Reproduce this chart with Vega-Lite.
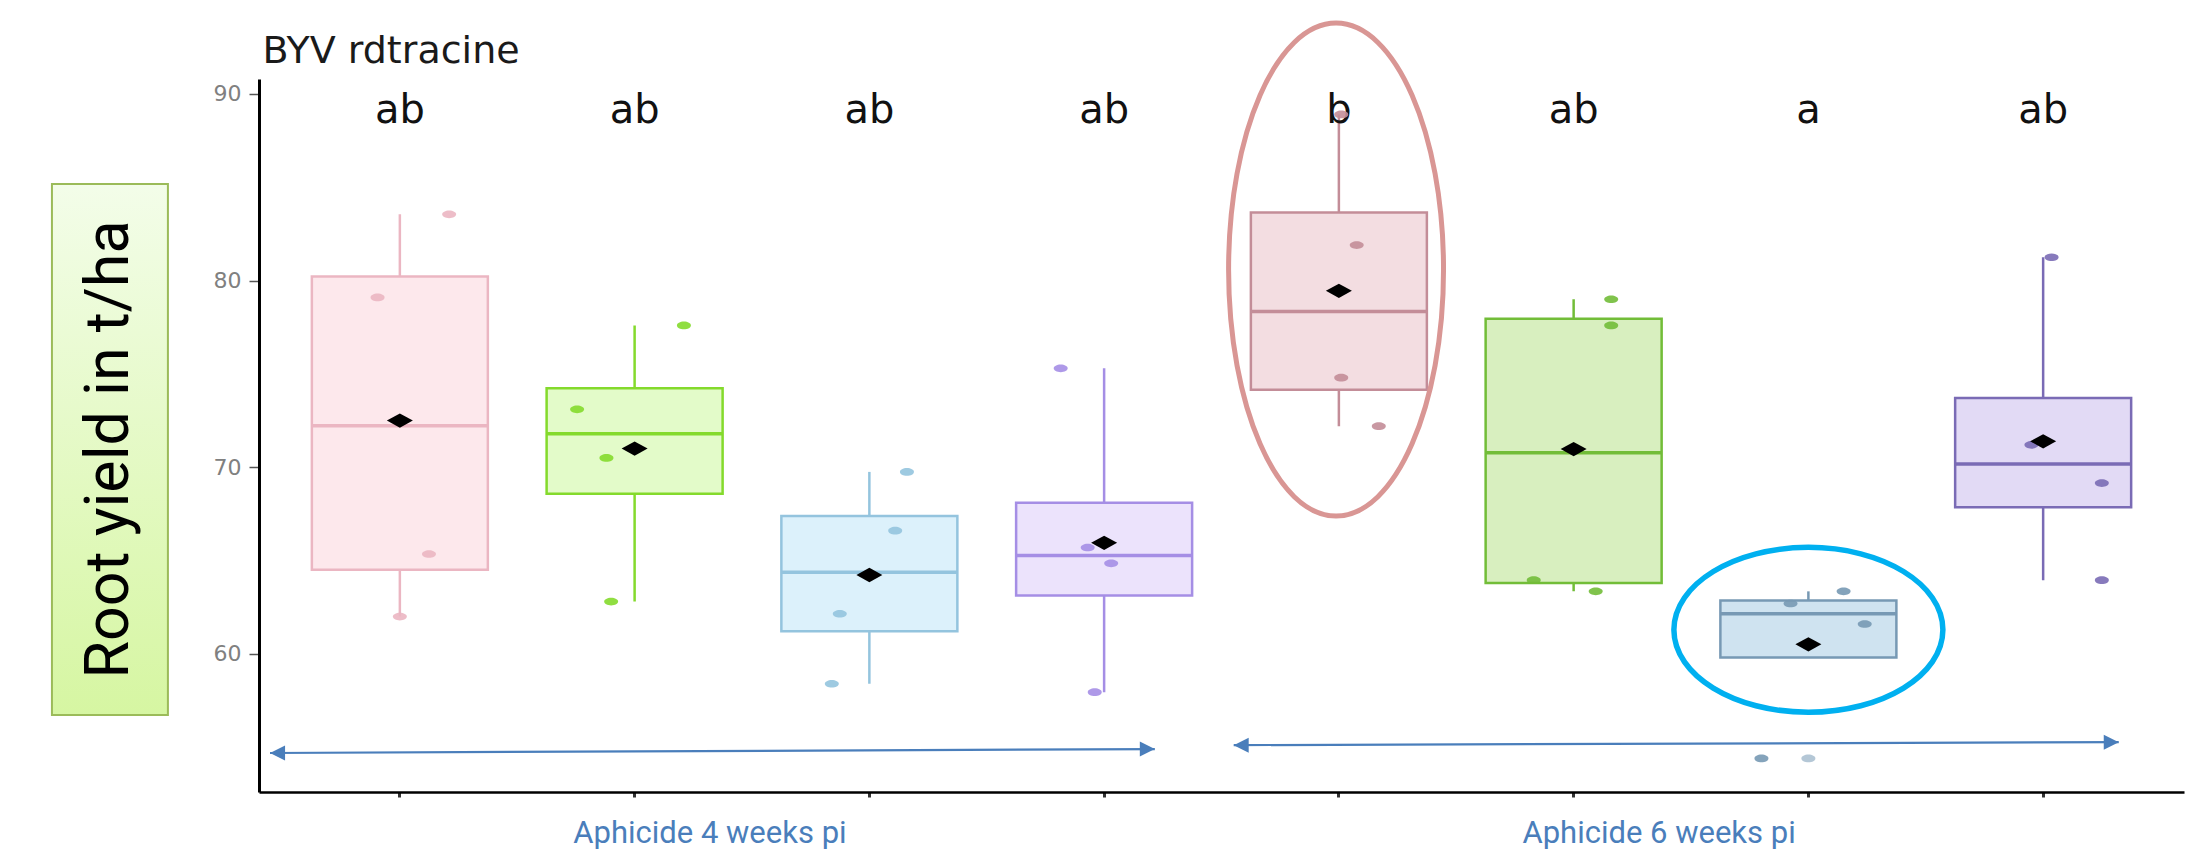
{
  "$schema": "https://vega.github.io/schema/vega-lite/v6.json",
  "width": 1925,
  "height": 713,
  "autosize": {"type": "none"},
  "padding": {"left": 259, "top": 79, "right": 3, "bottom": 71},
  "background": "white",
  "datasets": {
    "obs": [
      {"g": "1", "v": 83.55, "jit": 0.21}, {"g": "1", "v": 79.1, "jit": -0.095}, {"g": "1", "v": 65.35, "jit": 0.124}, {"g": "1", "v": 62.0, "jit": 0.0},
      {"g": "2", "v": 77.6, "jit": 0.21}, {"g": "2", "v": 73.1, "jit": -0.245}, {"g": "2", "v": 70.5, "jit": -0.12}, {"g": "2", "v": 62.8, "jit": -0.1},
      {"g": "3", "v": 69.75, "jit": 0.16}, {"g": "3", "v": 66.6, "jit": 0.11}, {"g": "3", "v": 62.15, "jit": -0.126}, {"g": "3", "v": 58.4, "jit": -0.16},
      {"g": "4", "v": 75.3, "jit": -0.185}, {"g": "4", "v": 65.7, "jit": -0.07}, {"g": "4", "v": 64.85, "jit": 0.03}, {"g": "4", "v": 57.95, "jit": -0.04},
      {"g": "5", "v": 88.9, "jit": 0.01}, {"g": "5", "v": 81.9, "jit": 0.076}, {"g": "5", "v": 74.8, "jit": 0.01}, {"g": "5", "v": 72.2, "jit": 0.17},
      {"g": "6", "v": 79.0, "jit": 0.16}, {"g": "6", "v": 77.6, "jit": 0.16}, {"g": "6", "v": 63.95, "jit": -0.17}, {"g": "6", "v": 63.35, "jit": 0.094},
      {"g": "7", "v": 63.35, "jit": 0.15}, {"g": "7", "v": 62.7, "jit": -0.076}, {"g": "7", "v": 61.6, "jit": 0.24}, {"g": "7", "v": 54.4, "jit": -0.2},
      {"g": "8", "v": 81.25, "jit": 0.036}, {"g": "8", "v": 71.2, "jit": -0.05}, {"g": "8", "v": 69.15, "jit": 0.25}, {"g": "8", "v": 63.95, "jit": 0.25}
    ],
    "letters": [
      {"g": "1", "lab": "ab"}, {"g": "2", "lab": "ab"}, {"g": "3", "lab": "ab"}, {"g": "4", "lab": "ab"},
      {"g": "5", "lab": "b"}, {"g": "6", "lab": "ab"}, {"g": "7", "lab": "a"}, {"g": "8", "lab": "ab"}
    ],
    "heading": [{"text": "BYV rdtracine"}],
    "ybox": [{"x1": -0.482, "x2": 0.012, "y1": 85.17, "y2": 56.73, "cx": -0.235, "cy": 70.95, "text": "Root yield in t/ha"}],
    "arrows": [
      {"x": 0.447, "y": 54.69, "x2": 4.216, "y2": 54.9},
      {"x": 4.552, "y": 55.11, "x2": 8.322, "y2": 55.27}
    ],
    "periods": [
      {"x": 2.321, "y": 50.35, "text": "Aphicide 4 weeks pi"},
      {"x": 6.364, "y": 50.35, "text": "Aphicide 6 weeks pi"}
    ],
    "rings": [
      {"name": "best", "x": 4.988, "y": 80.59},
      {"name": "worst", "x": 7.0, "y": 61.29}
    ]
  },
  "layer": [
    {
      "data": {"name": "obs"},
      "encoding": {
        "x": {"field": "g", "type": "nominal", "sort": null,
              "scale": {"type": "band", "paddingInner": 0.25, "paddingOuter": 0.225},
              "axis": {"labels": false, "title": null, "domainColor": "#000000", "domainWidth": 2.5, "tickColor": "#333333", "tickSize": 5, "tickWidth": 3, "grid": false}}
      },
      "layer": [
        {
          "transform": [
            {"joinaggregate": [{"op": "q1", "field": "v", "as": "q1"}, {"op": "q3", "field": "v", "as": "q3"}], "groupby": ["g"]},
            {"filter": "datum.v >= datum.q1 - 1.5*(datum.q3-datum.q1) && datum.v <= datum.q3 + 1.5*(datum.q3-datum.q1)"},
            {"aggregate": [{"op": "min", "field": "v", "as": "lo"}, {"op": "max", "field": "v", "as": "hi"}], "groupby": ["g"]}
          ],
          "mark": {"type": "rule", "strokeWidth": 2.5},
          "encoding": {
            "y": {"field": "lo", "type": "quantitative", "scale": {"domain": [52.6, 90.8], "nice": false, "zero": false},
                  "axis": {"values": [60, 70, 80, 90], "title": null, "grid": false, "domainColor": "#000000", "domainWidth": 3, "tickColor": "#555555", "tickSize": 10, "tickWidth": 1.5, "labelColor": "#808080", "labelFont": "DejaVu Sans", "labelFontSize": 22, "labelPadding": 8}},
            "y2": {"field": "hi"},
            "color": {"field": "g", "type": "nominal", "legend": null,
                      "scale": {"domain": ["1","2","3","4","5","6","7","8"], "range": ["#ebb6c2", "#84da2c", "#94c4de", "#a58ee5", "#c38d98", "#72bd38", "#7799b4", "#7a6bb5"]}}
          }
        },
        {
          "transform": [
            {"aggregate": [{"op": "q1", "field": "v", "as": "q1"}, {"op": "q3", "field": "v", "as": "q3"}], "groupby": ["g"]}
          ],
          "mark": {"type": "bar", "strokeWidth": 2.5, "width": 176},
          "encoding": {
            "y": {"field": "q1", "type": "quantitative", "scale": {"domain": [52.6, 90.8], "nice": false, "zero": false}, "title": null},
            "y2": {"field": "q3"},
            "fill": {"field": "g", "type": "nominal", "legend": null,
                     "scale": {"domain": ["1","2","3","4","5","6","7","8"], "range": ["#fde8ec", "#e3fbc9", "#dcf1fb", "#ece3fc", "#f3dde1", "#d8efbf", "#cfe3f0", "#e2daf5"]}},
            "stroke": {"field": "g", "type": "nominal", "legend": null,
                       "scale": {"domain": ["1","2","3","4","5","6","7","8"], "range": ["#ebb6c2", "#84da2c", "#94c4de", "#a58ee5", "#c38d98", "#72bd38", "#7799b4", "#7a6bb5"]}}
          }
        },
        {
          "transform": [
            {"aggregate": [{"op": "median", "field": "v", "as": "med"}], "groupby": ["g"]}
          ],
          "mark": {"type": "tick", "size": 176, "thickness": 3.5, "opacity": 1},
          "encoding": {
            "y": {"field": "med", "type": "quantitative", "scale": {"domain": [52.6, 90.8], "nice": false, "zero": false}, "title": null},
            "color": {"field": "g", "type": "nominal", "legend": null}
          }
        },
        {
          "transform": [
            {"joinaggregate": [{"op": "q1", "field": "v", "as": "q1"}, {"op": "q3", "field": "v", "as": "q3"}], "groupby": ["g"]},
            {"filter": "datum.v < datum.q1 - 1.5*(datum.q3-datum.q1) || datum.v > datum.q3 + 1.5*(datum.q3-datum.q1)"}
          ],
          "mark": {"type": "point", "filled": true, "shape": "M -1 0 A 1 0.55 0 1 0 1 0 A 1 0.55 0 1 0 -1 0 Z", "size": 196, "opacity": 0.55},
          "encoding": {
            "y": {"field": "v", "type": "quantitative", "scale": {"domain": [52.6, 90.8], "nice": false, "zero": false}, "title": null},
            "color": {"field": "g", "type": "nominal", "legend": null}
          }
        },
        {
          "data": {"name": "letters"},
          "mark": {"type": "text", "font": "DejaVu Sans", "fontSize": 40, "color": "#111111", "baseline": "alphabetic", "align": "center"},
          "encoding": {
            "y": {"datum": 88.45, "type": "quantitative", "scale": {"domain": [52.6, 90.8], "nice": false, "zero": false}, "title": null},
            "text": {"field": "lab", "type": "nominal"}
          }
        }
      ]
    },
    {
      "data": {"name": "obs"},
      "encoding": {
        "x": {"field": "g", "type": "nominal", "sort": null,
              "scale": {"type": "band", "paddingInner": 0.25, "paddingOuter": 0.225},
              "axis": null}
      },
      "layer": [
        {
          "mark": {"type": "point", "filled": true, "shape": "M -1 0 A 1 0.55 0 1 0 1 0 A 1 0.55 0 1 0 -1 0 Z", "size": 196, "opacity": 0.9},
          "encoding": {
            "y": {"field": "v", "type": "quantitative", "scale": {"domain": [52.6, 90.8], "nice": false, "zero": false}, "title": null},
            "xOffset": {"field": "jit", "type": "quantitative", "scale": {"domain": [-0.375, 0.375], "range": [0, 176.07], "nice": false, "zero": false}},
            "color": {"field": "g", "type": "nominal", "legend": null}
          }
        },
        {
          "transform": [
            {"aggregate": [{"op": "mean", "field": "v", "as": "mean"}], "groupby": ["g"]}
          ],
          "mark": {"type": "point", "filled": true, "shape": "M -1 0 L 0 -0.55 L 1 0 L 0 0.55 Z", "size": 676, "color": "#000000", "opacity": 1},
          "encoding": {
            "y": {"field": "mean", "type": "quantitative", "scale": {"domain": [52.6, 90.8], "nice": false, "zero": false}, "title": null}
          }
        }
      ]
    },
    {
      "layer": [
        {
          "data": {"name": "heading"},
          "mark": {"type": "text", "font": "DejaVu Sans", "fontSize": 38, "color": "#1a1a1a", "align": "left", "baseline": "alphabetic"},
          "encoding": {
            "x": {"datum": 0.415, "type": "quantitative", "scale": {"domain": [0.4, 8.6], "nice": false, "zero": false}, "axis": null},
            "y": {"datum": 91.66, "type": "quantitative", "scale": {"domain": [52.6, 90.8], "nice": false, "zero": false}, "title": null},
            "text": {"field": "text", "type": "nominal"}
          }
        },
        {
          "data": {"name": "ybox"},
          "mark": {"type": "rect", "fill": "#9a9a9a", "opacity": 0.35},
          "encoding": {
            "x": {"field": "x1", "type": "quantitative", "scale": {"domain": [0.4, 8.6], "nice": false, "zero": false}, "axis": null},
            "x2": {"field": "x2"},
            "y": {"field": "y1", "type": "quantitative", "scale": {"domain": [52.6, 90.8], "nice": false, "zero": false}, "title": null},
            "y2": {"field": "y2"},
            "xOffset": {"datum": 4, "scale": null},
            "yOffset": {"datum": 4, "scale": null}
          }
        },
        {
          "data": {"name": "ybox"},
          "mark": {"type": "rect", "stroke": "#9bbb59", "strokeWidth": 2,
                   "fill": {"gradient": "linear", "x1": 0, "y1": 0, "x2": 0, "y2": 1, "stops": [{"offset": 0, "color": "#f3fde9"}, {"offset": 1, "color": "#d6f6a2"}]}},
          "encoding": {
            "x": {"field": "x1", "type": "quantitative", "scale": {"domain": [0.4, 8.6], "nice": false, "zero": false}, "axis": null},
            "x2": {"field": "x2"},
            "y": {"field": "y1", "type": "quantitative", "scale": {"domain": [52.6, 90.8], "nice": false, "zero": false}, "title": null},
            "y2": {"field": "y2"}
          }
        },
        {
          "data": {"name": "ybox"},
          "mark": {"type": "text", "angle": 270, "font": "Roboto", "fontSize": 61, "color": "#000000", "align": "center", "baseline": "middle"},
          "encoding": {
            "x": {"field": "cx", "type": "quantitative", "scale": {"domain": [0.4, 8.6], "nice": false, "zero": false}, "axis": null},
            "y": {"field": "cy", "type": "quantitative", "scale": {"domain": [52.6, 90.8], "nice": false, "zero": false}, "title": null},
            "text": {"field": "text", "type": "nominal"}
          }
        },
        {
          "data": {"name": "arrows"},
          "mark": {"type": "rule", "color": "#4a7ebb", "strokeWidth": 2.2},
          "encoding": {
            "x": {"field": "x", "type": "quantitative", "scale": {"domain": [0.4, 8.6], "nice": false, "zero": false}, "axis": null},
            "x2": {"field": "x2"},
            "y": {"field": "y", "type": "quantitative", "scale": {"domain": [52.6, 90.8], "nice": false, "zero": false}, "title": null},
            "y2": {"field": "y2"}
          }
        },
        {
          "data": {"name": "arrows"},
          "mark": {"type": "point", "filled": true, "shape": "M 0 0 L 2 -1 L 2 1 Z", "size": 225, "color": "#4a7ebb", "opacity": 1},
          "encoding": {
            "x": {"field": "x", "type": "quantitative", "scale": {"domain": [0.4, 8.6], "nice": false, "zero": false}, "axis": null},
            "y": {"field": "y", "type": "quantitative", "scale": {"domain": [52.6, 90.8], "nice": false, "zero": false}, "title": null}
          }
        },
        {
          "data": {"name": "arrows"},
          "mark": {"type": "point", "filled": true, "shape": "M 0 0 L -2 -1 L -2 1 Z", "size": 225, "color": "#4a7ebb", "opacity": 1},
          "encoding": {
            "x": {"field": "x2", "type": "quantitative", "scale": {"domain": [0.4, 8.6], "nice": false, "zero": false}, "axis": null},
            "y": {"field": "y2", "type": "quantitative", "scale": {"domain": [52.6, 90.8], "nice": false, "zero": false}, "title": null}
          }
        },
        {
          "data": {"name": "periods"},
          "mark": {"type": "text", "font": "Roboto", "fontSize": 31, "color": "#4a7ebb", "align": "center", "baseline": "middle"},
          "encoding": {
            "x": {"field": "x", "type": "quantitative", "scale": {"domain": [0.4, 8.6], "nice": false, "zero": false}, "axis": null},
            "y": {"field": "y", "type": "quantitative", "scale": {"domain": [52.6, 90.8], "nice": false, "zero": false}, "title": null},
            "text": {"field": "text", "type": "nominal"}
          }
        },
        {
          "data": {"name": "rings"},
          "transform": [{"filter": "datum.name == 'best'"}],
          "mark": {"type": "point", "filled": false, "shape": "M -0.436 0 A 0.436 1 0 1 0 0.436 0 A 0.436 1 0 1 0 -0.436 0 Z", "size": 243049, "stroke": "#d99694", "strokeWidth": 5, "opacity": 1},
          "encoding": {
            "x": {"field": "x", "type": "quantitative", "scale": {"domain": [0.4, 8.6], "nice": false, "zero": false}, "axis": null},
            "y": {"field": "y", "type": "quantitative", "scale": {"domain": [52.6, 90.8], "nice": false, "zero": false}, "title": null}
          }
        },
        {
          "data": {"name": "rings"},
          "transform": [{"filter": "datum.name == 'worst'"}],
          "mark": {"type": "point", "filled": false, "shape": "M -1 0 A 1 0.613 0 1 0 1 0 A 1 0.613 0 1 0 -1 0 Z", "size": 72361, "stroke": "#00b0f0", "strokeWidth": 5.5, "opacity": 1},
          "encoding": {
            "x": {"field": "x", "type": "quantitative", "scale": {"domain": [0.4, 8.6], "nice": false, "zero": false}, "axis": null},
            "y": {"field": "y", "type": "quantitative", "scale": {"domain": [52.6, 90.8], "nice": false, "zero": false}, "title": null}
          }
        }
      ]
    }
  ],
  "resolve": {"scale": {"x": "independent"}},
  "config": {
    "view": {"stroke": null},
    "axis": {"grid": false}
  }
}
